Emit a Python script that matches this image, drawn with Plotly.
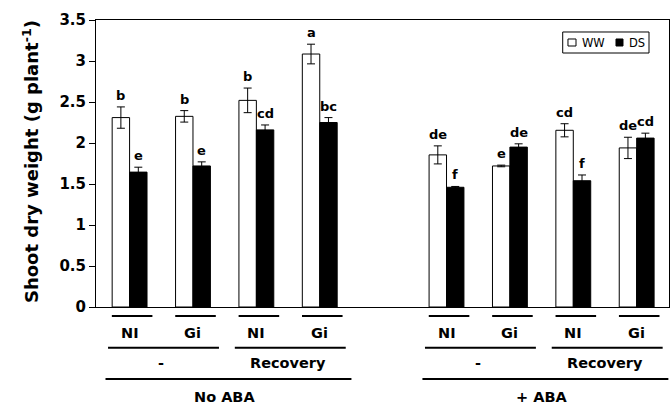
import plotly.graph_objects as go

# ---------------- data ----------------
aba_groups = ["No ABA", "No ABA", "No ABA", "No ABA", "+ ABA", "+ ABA", "+ ABA", "+ ABA"]
treatments = ["-", "-", "Recovery", "Recovery", "-", "-", "Recovery", "Recovery"]
inoculation = ["NI", "Gi", "NI", "Gi", "NI", "Gi", "NI", "Gi"]

ww_values = [2.31, 2.325, 2.52, 3.085, 1.855, 1.72, 2.155, 1.94]
ww_errors = [0.13, 0.07, 0.15, 0.12, 0.11, 0.01, 0.08, 0.13]
ds_values = [1.645, 1.72, 2.16, 2.25, 1.46, 1.95, 1.54, 2.06]
ds_errors = [0.06, 0.05, 0.06, 0.06, 0.01, 0.04, 0.07, 0.06]

ww_letters = ["b", "b", "b", "a", "de", "e", "cd", "de"]
ds_letters = ["e", "e", "cd", "bc", "f", "de", "f", "cd"]

y_ticks = [0, 0.5, 1, 1.5, 2, 2.5, 3, 3.5]
y_tick_labels = ["0", "0.5", "1", "1.5", "2", "2.5", "3", "3.5"]

# ---------------- layout helpers ----------------
# x positions: one empty slot between the two ABA groups
xpos = []
slot = 0
prev = aba_groups[0]
for g in aba_groups:
    if g != prev:
        slot += 1
        prev = g
    xpos.append(slot)
    slot += 1

XMIN, XMAX = -0.53, 8.51
OFF = 0.1375  # half of one bar width in grouped mode (bargap 0.45)

def xp(x):
    return (x - XMIN) / (XMAX - XMIN)

BOLD = "DejaVu Sans"

fig = go.Figure()
fig.add_trace(go.Bar(
    x=xpos, y=ww_values, name="WW",
    marker=dict(color="white", line=dict(color="black", width=1)),
    error_y=dict(type="data", array=ww_errors, visible=True, color="black", thickness=1, width=4),
    showlegend=False,
))
fig.add_trace(go.Bar(
    x=xpos, y=ds_values, name="DS",
    marker=dict(color="black", line=dict(color="black", width=1)),
    error_y=dict(type="data", array=ds_errors, visible=True, color="black", thickness=1, width=4),
    showlegend=False,
))

annotations = []
shapes = []

# significance letters
for i, x in enumerate(xpos):
    annotations.append(dict(x=x - OFF, y=ww_values[i] + ww_errors[i], xref="x", yref="y",
                            text="<b>%s</b>" % ww_letters[i], showarrow=False, yanchor="bottom",
                            yshift=2, font=dict(family=BOLD, size=13, color="black")))
    annotations.append(dict(x=x + OFF, y=ds_values[i] + ds_errors[i], xref="x", yref="y",
                            text="<b>%s</b>" % ds_letters[i], showarrow=False, yanchor="bottom",
                            yshift=2, font=dict(family=BOLD, size=13, color="black")))

# paper y levels for hierarchical category labels
Y_L1, Y_T1 = -0.0314, -0.0906
Y_L2, Y_T2 = -0.1418, -0.1951
Y_L3, Y_T3 = -0.2509, -0.3136
LBL_FONT = dict(family=BOLD, size=14.5, color="black")

def hline(x0, x1, y):
    shapes.append(dict(type="line", xref="paper", yref="paper", x0=xp(x0), x1=xp(x1),
                       y0=y, y1=y, line=dict(color="black", width=2)))

def label(x, y, t):
    annotations.append(dict(x=xp(x), y=y, xref="paper", yref="paper", text="<b>%s</b>" % t,
                            showarrow=False, xanchor="center", yanchor="middle", font=LBL_FONT))

# row 1: inoculation
for i, x in enumerate(xpos):
    hline(x - 0.28, x + 0.36, Y_L1)
    label(x, Y_T1, inoculation[i])

# row 2: treatment spans; row 3: ABA spans
def spans(keys):
    out = []
    start = 0
    for i in range(1, len(keys) + 1):
        if i == len(keys) or keys[i] != keys[start]:
            out.append((start, i - 1))
            start = i
    return out

pair_keys = [a + "|" + t for a, t in zip(aba_groups, treatments)]
for s, e in spans(pair_keys):
    hline(xpos[s] - 0.34, xpos[e] + 0.41, Y_L2)
    label((xpos[s] + xpos[e]) / 2, Y_T2, treatments[s])

for s, e in spans(aba_groups):
    hline(xpos[s] - 0.38, xpos[e] + 0.5, Y_L3)
    label((xpos[s] + xpos[e]) / 2, Y_T3, aba_groups[s])

# y-axis title
annotations.append(dict(x=(31 - 96) / 573, y=0.505, xref="paper", yref="paper",
                        text="<b>Shoot dry weight (g plant<sup>-1</sup>)</b>", textangle=-90,
                        showarrow=False, xanchor="center", yanchor="middle",
                        font=dict(family=BOLD, size=18, color="black")))

# legend (drawn)
shapes.append(dict(type="rect", xref="paper", yref="paper", x0=0.8145, x1=0.9651, y0=0.885, y1=0.9582,
                   line=dict(color="black", width=1), fillcolor="white"))
shapes.append(dict(type="rect", xref="paper", yref="paper", x0=0.8237, x1=0.8377, y0=0.9094, y1=0.9338,
                   line=dict(color="black", width=1), fillcolor="white"))
shapes.append(dict(type="rect", xref="paper", yref="paper", x0=0.9075, x1=0.9197, y0=0.9094, y1=0.9338,
                   line=dict(color="black", width=1), fillcolor="black"))
annotations.append(dict(x=0.8447, y=0.9216, xref="paper", yref="paper", text="WW", showarrow=False,
                        xanchor="left", yanchor="middle", font=dict(family="DejaVu Sans", size=11.5, color="black")))
annotations.append(dict(x=0.9267, y=0.9216, xref="paper", yref="paper", text="DS", showarrow=False,
                        xanchor="left", yanchor="middle", font=dict(family="DejaVu Sans", size=11.5, color="black")))

fig.update_layout(
    width=670, height=406,
    margin=dict(l=96, r=1, t=20, b=99),
    paper_bgcolor="white", plot_bgcolor="white",
    barmode="group", bargap=0.45, bargroupgap=0,
    xaxis=dict(range=[XMIN, XMAX], showticklabels=False, ticks="", showgrid=False, zeroline=False,
               showline=True, linecolor="black", linewidth=1, mirror=True),
    yaxis=dict(range=[0, 3.5], tickvals=y_ticks, ticktext=["<b>%s</b>" % t for t in y_tick_labels],
               ticks="outside", ticklen=6, tickcolor="black", showgrid=False, zeroline=False,
               showline=True, linecolor="black", linewidth=1, mirror=True,
               tickfont=dict(family=BOLD, size=15, color="black")),
    annotations=annotations,
    shapes=shapes,
)

fig.write_html("out.html", config={"displayModeBar": False},
               post_script="document.body.style.margin='0';document.body.style.overflow='hidden';")
